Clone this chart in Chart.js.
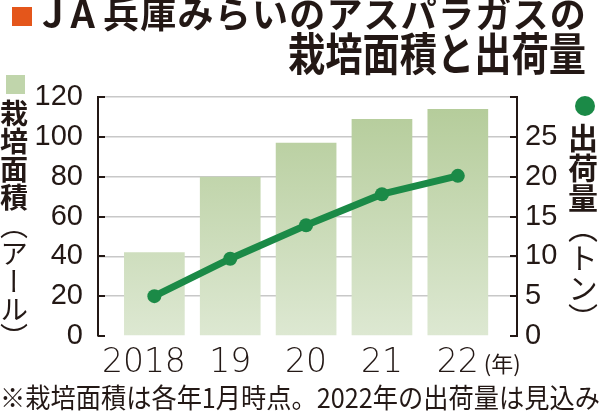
<!DOCTYPE html>
<html lang="ja">
<head>
<meta charset="utf-8">
<script src="https://cdn.jsdelivr.net/npm/chart.js@4.4.1/dist/chart.umd.min.js"></script>
<style>
  html, body { margin: 0; padding: 0; background: #fff; }
  #wrap { position: relative; width: 600px; height: 416px; overflow: hidden;
          font-family: "Noto Sans CJK JP", sans-serif; color: #231815; }
  #chart { position: absolute; left: 0; top: 0; }
  .abs { position: absolute; white-space: nowrap; line-height: 1; }
  #ja { left: 42px; top: -7px; font-size: 38px; font-weight: 700; letter-spacing: 7px; }
  #title1 { left: 103px; top: -6px; font-size: 36px; font-weight: 700; }
  #title2 { left: 288px; top: 29px; font-size: 45px; font-weight: 700; }
  #mark { left: 12px; top: 7px; width: 20px; height: 19px; background: #e4561b; }
  #legBar { left: 6px; top: 75px; width: 19px; height: 19px; background: #c0d5ab; }
  #legDot { left: 575px; top: 96px; width: 20px; height: 20px; border-radius: 50%; background: #1b8a47; }
  .vt { writing-mode: vertical-rl; text-orientation: mixed; line-height: 1; }
  #ytitle { left: 0px; top: 99px; font-size: 28px; }
  #y2title { left: 568px; top: 123px; font-size: 30px; }
  .vt b { font-weight: 700; }
  .vt span { font-weight: 400; }
  #note { left: 0px; top: 383px; font-size: 27px; font-weight: 400; }
</style>
</head>
<body>
<div id="wrap">
  <canvas id="chart" width="600" height="416"></canvas>
  <div class="abs" id="mark"></div>
  <div class="abs" id="ja">JA</div>
  <div class="abs" id="title1">兵庫みらいのアスパラガスの</div>
  <div class="abs" id="title2">栽培面積と出荷量</div>
  <div class="abs" id="legBar"></div>
  <div class="abs vt" id="ytitle"><b>栽培面積</b><span>（アール）</span></div>
  <div class="abs" id="legDot"></div>
  <div class="abs vt" id="y2title"><b>出荷量</b><span>（トン）</span></div>
  <div class="abs" id="note">※栽培面積は各年1月時点。2022年の出荷量は見込み</div>
</div>
<script>
// data
const years = ['2018', '19', '20', '21', '22'];
const areaValues = [42, 80, 97, 109, 114];          // 栽培面積 (アール)
const shipmentValues = [5.0, 9.7, 13.9, 17.8, 20.1]; // 出荷量 (トン)

const INK = '#231815';
const GREEN = '#1b8a47';

// stretch a text line to a given width using letter spacing
function spreadTo(id, w) {
  const el = document.getElementById(id);
  const n = el.textContent.length;
  el.style.letterSpacing = (w - el.offsetWidth) / n + 'px';
}
// squeeze a text line horizontally (condensed newspaper type)
function squeezeTo(id, w) {
  const el = document.getElementById(id);
  el.style.transformOrigin = 'left top';
  el.style.transform = 'scaleX(' + w / el.offsetWidth + ')';
}
spreadTo('title1', 484);
squeezeTo('title2', 298);
squeezeTo('note', 600);

// inward tick marks on both value axes + the (年) unit
const axisDecor = {
  id: 'axisDecor',
  afterDraw(chart) {
    const ctx = chart.ctx;
    const area = chart.chartArea;
    ctx.save();
    ctx.strokeStyle = INK;
    ctx.lineWidth = 2;
    chart.scales.y.ticks.forEach((t) => {
      const py = Math.round(chart.scales.y.getPixelForValue(t.value));
      ctx.beginPath();
      ctx.moveTo(area.left, py);
      ctx.lineTo(area.left + 7, py);
      ctx.stroke();
    });
    chart.scales.y2.ticks.forEach((t) => {
      const py = Math.round(chart.scales.y2.getPixelForValue(t.value));
      ctx.beginPath();
      ctx.moveTo(area.right, py);
      ctx.lineTo(area.right - 7, py);
      ctx.stroke();
    });
    const xs = chart.scales.x;
    ctx.fillStyle = INK;
    ctx.font = '22px "Noto Sans CJK JP"';
    ctx.textBaseline = 'alphabetic';
    ctx.fillText('(年)', xs.getPixelForValue(years.length - 1) + 26, 372);
    ctx.restore();
  },
};

const ctx = document.getElementById('chart').getContext('2d');

new Chart(ctx, {
  type: 'bar',
  data: {
    datasets: [
      {
        type: 'line',
        order: 0,
        yAxisID: 'y2',
        data: shipmentValues.map((v, i) => ({ x: i, y: v })),
        borderColor: GREEN,
        backgroundColor: GREEN,
        borderWidth: 7,
        pointRadius: 7,
        pointBorderWidth: 0,
        pointBackgroundColor: GREEN,
        tension: 0,
      },
      {
        order: 1,
        yAxisID: 'y',
        data: areaValues.map((v, i) => ({ x: i, y: v })),
        barPercentage: 0.8,
        categoryPercentage: 1,
        backgroundColor: (c) => {
          const a = c.chart.chartArea;
          if (!a) return '#c8dab7';
          const g = c.chart.ctx.createLinearGradient(0, a.top, 0, a.bottom);
          g.addColorStop(0, '#b3cb98');
          g.addColorStop(1, '#dde8d2');
          return g;
        },
      },
    ],
  },
  options: {
    responsive: false,
    animation: false,
    layout: { padding: { top: 97, left: 0, right: 0, bottom: 0 } },
    plugins: {
      legend: { display: false },
      tooltip: { enabled: false },
    },
    scales: {
      x: {
        type: 'linear',
        offset: false,
        min: -0.743,
        max: 4.78,
        afterFit: (s) => { s.height = 80; },
        grid: { display: false },
        border: { display: false },
        ticks: {
          stepSize: 1,
          includeBounds: false,
          padding: 0,
          color: INK,
          font: { family: '"DejaVu Sans"', size: 33, weight: 200 },
          maxRotation: 0,
          autoSkip: false,
          callback: (v) => (Number.isInteger(v) && years[v] ? (v === 0 ? years[v] + '  ' : years[v]) : ''),
        },
      },
      y: {
        position: 'left',
        min: 0,
        max: 120,
        afterFit: (s) => { s.width = 98; },
        grid: {
          color: (c) => (c.tick && c.tick.value === 0 ? 'rgba(0,0,0,0)' : '#c8c8c8'),
          lineWidth: 1.5,
          drawTicks: false,
        },
        border: { display: true, color: INK, width: 2 },
        ticks: {
          stepSize: 20,
          padding: 15,
          color: INK,
          font: { family: '"Liberation Sans Narrow", "Liberation Sans"', size: 29 },
        },
      },
      y2: {
        position: 'right',
        min: 0,
        max: 30,
        afterFit: (s) => { s.width = 83; },
        grid: { display: false, drawTicks: false },
        border: { display: true, color: INK, width: 2 },
        ticks: {
          stepSize: 5,
          padding: 8,
          color: INK,
          font: { family: '"Liberation Sans Narrow", "Liberation Sans"', size: 29 },
          callback: (v) => (v === 30 ? '' : v),
        },
      },
    },
  },
  plugins: [axisDecor],
});
</script>
</body>
</html>
